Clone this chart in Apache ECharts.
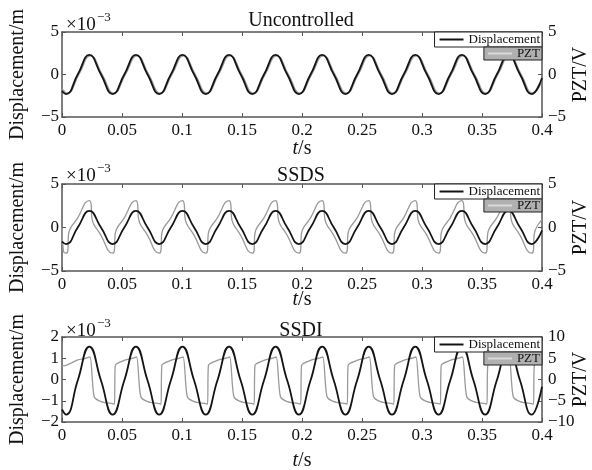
<!DOCTYPE html>
<html>
<head>
    <meta charset="UTF-8">
    <title>Displacement / PZT</title>
    <script src="https://cdn.jsdelivr.net/npm/echarts/dist/echarts.min.js"></script>
    <style>
        html, body { margin: 0; padding: 0; background: #fff; }
        #main { width: 592px; height: 470px; }
    </style>
</head>
<body>
<div id="main"></div>
<script>
    // key times of the displacement (troughs, zero crossings, peaks), s
    var tDisp = [0, 0.0034, 0.0131, 0.0228, 0.0325, 0.0422, 0.0519, 0.0616, 0.0713, 0.0810, 0.0907,
        0.1004, 0.1101, 0.1198, 0.1295, 0.1392, 0.1489, 0.1586, 0.1683, 0.1780, 0.1877, 0.1974,
        0.2071, 0.2168, 0.2265, 0.2362, 0.2459, 0.2556, 0.2653, 0.2750, 0.2847, 0.2944, 0.3041,
        0.3138, 0.3235, 0.3332, 0.3429, 0.3526, 0.3623, 0.3720, 0.3817, 0.3914, 0.4];

    // displacement, x1e-3 m
    var dispUnc = [-1.96,
        -2.3, 0, 2.3, 0, -2.3, 0, 2.3, 0, -2.3, 0, 2.3, 0, -2.3, 0, 2.3, 0, -2.3, 0, 2.3, 0,
        -2.3, 0, 2.3, 0, -2.3, 0, 2.3, 0, -2.3, 0, 2.3, 0, -2.3, 0, 2.3, 0, -2.3, 0, 2.3, 0,
        -2.3, -0.41];
    var dispSsds = [-1.62,
        -1.9, 0, 1.9, 0, -1.9, 0, 1.9, 0, -1.9, 0, 1.9, 0, -1.9, 0, 1.9, 0, -1.9, 0, 1.9, 0,
        -1.9, 0, 1.9, 0, -1.9, 0, 1.9, 0, -1.9, 0, 1.9, 0, -1.9, 0, 1.9, 0, -1.9, 0, 1.9, 0,
        -1.9, -0.34];
    var dispSsdi = [-1.41,
        -1.65, -0.05, 1.55, -0.05, -1.65, -0.05, 1.55, -0.05, -1.65, -0.05, 1.55, -0.05,
        -1.65, -0.05, 1.55, -0.05, -1.65, -0.05, 1.55, -0.05, -1.65, -0.05, 1.55, -0.05,
        -1.65, -0.05, 1.55, -0.05, -1.65, -0.05, 1.55, -0.05, -1.65, -0.05, 1.55, -0.05,
        -1.65, -0.05, 1.55, -0.05,
        -1.65, -0.34];

    // PZT voltage, V
    var tPztUnc = [0, 0.0044, 0.0141, 0.0238, 0.0335, 0.0432, 0.0529, 0.0626, 0.0723, 0.0820, 0.0917,
        0.1014, 0.1111, 0.1208, 0.1305, 0.1402, 0.1499, 0.1596, 0.1693, 0.1790, 0.1887, 0.1984,
        0.2081, 0.2178, 0.2275, 0.2372, 0.2469, 0.2566, 0.2663, 0.2760, 0.2857, 0.2954, 0.3051,
        0.3148, 0.3245, 0.3342, 0.3439, 0.3536, 0.3633, 0.3730, 0.3827, 0.3924, 0.4];
    var pztUnc = [-1.67,
        -2.2, 0, 2.2, 0, -2.2, 0, 2.2, 0, -2.2, 0, 2.2, 0, -2.2, 0, 2.2, 0, -2.2, 0, 2.2, 0,
        -2.2, 0, 2.2, 0, -2.2, 0, 2.2, 0, -2.2, 0, 2.2, 0, -2.2, 0, 2.2, 0, -2.2, 0, 2.2, 0,
        -2.2, -0.73];

    var tPztSsds = [0, 0.0012,
        0.0034, 0.0049, 0.0054, 0.0131, 0.0228, 0.0243, 0.0248, 0.0325,
        0.0422, 0.0437, 0.0442, 0.0519, 0.0616, 0.0631, 0.0636, 0.0713,
        0.0810, 0.0825, 0.0830, 0.0907, 0.1004, 0.1019, 0.1024, 0.1101,
        0.1198, 0.1213, 0.1218, 0.1295, 0.1392, 0.1407, 0.1412, 0.1489,
        0.1586, 0.1601, 0.1606, 0.1683, 0.1780, 0.1795, 0.1800, 0.1877,
        0.1974, 0.1989, 0.1994, 0.2071, 0.2168, 0.2183, 0.2188, 0.2265,
        0.2362, 0.2377, 0.2382, 0.2459, 0.2556, 0.2571, 0.2576, 0.2653,
        0.2750, 0.2765, 0.2770, 0.2847, 0.2944, 0.2959, 0.2964, 0.3041,
        0.3138, 0.3153, 0.3158, 0.3235, 0.3332, 0.3347, 0.3352, 0.3429,
        0.3526, 0.3541, 0.3546, 0.3623, 0.3720, 0.3735, 0.3740, 0.3817,
        0.3914, 0.3929, 0.3934, 0.4];
    var pztSsds = [0.0, -2.7,
        -2.95, -2.6, -0.85, 1.1, 3.1, 2.6, 1.2, -0.9,
        -2.95, -2.6, -0.85, 1.1, 3.1, 2.6, 1.2, -0.9,
        -2.95, -2.6, -0.85, 1.1, 3.1, 2.6, 1.2, -0.9,
        -2.95, -2.6, -0.85, 1.1, 3.1, 2.6, 1.2, -0.9,
        -2.95, -2.6, -0.85, 1.1, 3.1, 2.6, 1.2, -0.9,
        -2.95, -2.6, -0.85, 1.1, 3.1, 2.6, 1.2, -0.9,
        -2.95, -2.6, -0.85, 1.1, 3.1, 2.6, 1.2, -0.9,
        -2.95, -2.6, -0.85, 1.1, 3.1, 2.6, 1.2, -0.9,
        -2.95, -2.6, -0.85, 1.1, 3.1, 2.6, 1.2, -0.9,
        -2.95, -2.6, -0.85, 1.1, 3.1, 2.6, 1.2, -0.9,
        -2.95, -2.6, -0.85, 0.9];

    var tPztSsdi = [0, 0.0040, 0.0131,
        0.0198, 0.0233, 0.0268, 0.0325, 0.0422, 0.0437, 0.0444, 0.0519,
        0.0586, 0.0621, 0.0656, 0.0713, 0.0810, 0.0825, 0.0832, 0.0907,
        0.0974, 0.1009, 0.1044, 0.1101, 0.1198, 0.1213, 0.1220, 0.1295,
        0.1362, 0.1397, 0.1432, 0.1489, 0.1586, 0.1601, 0.1608, 0.1683,
        0.1750, 0.1785, 0.1820, 0.1877, 0.1974, 0.1989, 0.1996, 0.2071,
        0.2138, 0.2173, 0.2208, 0.2265, 0.2362, 0.2377, 0.2384, 0.2459,
        0.2526, 0.2561, 0.2596, 0.2653, 0.2750, 0.2765, 0.2772, 0.2847,
        0.2914, 0.2949, 0.2984, 0.3041, 0.3138, 0.3153, 0.3160, 0.3235,
        0.3302, 0.3337, 0.3372, 0.3429, 0.3526, 0.3541, 0.3548, 0.3623,
        0.3690, 0.3725, 0.3760, 0.3817, 0.3914, 0.3929, 0.3936, 0.4];
    var pztSsdi = [3.2, 3.4, 4.6,
        5.0, 5.3, -4.0, -5.2, -5.7, -5.8, 3.3, 4.5,
        5.0, 5.3, -4.0, -5.2, -5.7, -5.8, 3.3, 4.5,
        5.0, 5.3, -4.0, -5.2, -5.7, -5.8, 3.3, 4.5,
        5.0, 5.3, -4.0, -5.2, -5.7, -5.8, 3.3, 4.5,
        5.0, 5.3, -4.0, -5.2, -5.7, -5.8, 3.3, 4.5,
        5.0, 5.3, -4.0, -5.2, -5.7, -5.8, 3.3, 4.5,
        5.0, 5.3, -4.0, -5.2, -5.7, -5.8, 3.3, 4.5,
        5.0, 5.3, -4.0, -5.2, -5.7, -5.8, 3.3, 4.5,
        5.0, 5.3, -4.0, -5.2, -5.7, -5.8, 3.3, 4.5,
        5.0, 5.3, -4.0, -5.2, -5.7, -5.8, 3.3, 4.4];

    var panelTitles = ['Uncontrolled', 'SSDS', 'SSDI'];
    var leftRange = [[-5, 5, 5], [-5, 5, 5], [-2, 2, 1]];
    var rightRange = [[-5, 5, 5], [-5, 5, 5], [-10, 10, 5]];

    var FONT = '"Liberation Serif", "Times New Roman", serif';
    var gridTop = [32, 184, 337];
    var gridH = [85, 87, 85];
    var titleY = [21, 176, 331];
    var expY = [25, 176, 331];
    var tsGap = [22, 19, 29];

    function pairs(ts, vs) {
        return ts.map(function (t, i) { return [t, vs[i]]; });
    }
    function minus(v) {
        return String(v).replace('-', '\u2212');
    }

    var dispAll = [dispUnc, dispSsds, dispSsdi];
    var pztT = [tPztUnc, tPztSsds, tPztSsdi];
    var pztAll = [pztUnc, pztSsds, pztSsdi];

    var grids = [], xAxes = [], yAxes = [], series = [], legends = [], graphics = [];
    var lineCol = '#555';

    for (var i = 0; i < 3; i++) {
        grids.push({left: 62, right: 50, top: gridTop[i], height: gridH[i],
            containLabel: false, outerBoundsMode: 'none'});

        xAxes.push({
            type: 'value', gridIndex: i, min: 0, max: 0.4, interval: 0.05, position: 'bottom',
            name: '{i|t}/s', nameLocation: 'middle', nameGap: tsGap[i], nameMoveOverlap: false,
            nameTextStyle: {fontFamily: FONT, fontSize: 20, color: '#111',
                rich: {i: {fontFamily: FONT, fontSize: 20, fontStyle: 'italic', color: '#111'}}},
            axisLine: {show: true, onZero: false, lineStyle: {color: lineCol, width: 1.5}},
            axisTick: {inside: true, length: 4, lineStyle: {color: lineCol}},
            axisLabel: {fontFamily: FONT, fontSize: 17, color: '#111', margin: 5,
                formatter: function (v) { return String(+v.toFixed(2)); }},
            splitLine: {show: false}
        });
        xAxes.push({
            type: 'value', gridIndex: i, min: 0, max: 0.4, interval: 0.05, position: 'top',
            axisLine: {show: true, onZero: false, lineStyle: {color: lineCol, width: 1.5}},
            axisTick: {inside: true, length: 4, lineStyle: {color: lineCol}},
            axisLabel: {show: false},
            splitLine: {show: false}
        });

        yAxes.push({
            type: 'value', gridIndex: i, position: 'left',
            min: leftRange[i][0], max: leftRange[i][1], interval: leftRange[i][2],
            name: 'Displacement/m', nameLocation: 'middle', nameGap: 34, nameMoveOverlap: false,
            nameTextStyle: {fontFamily: FONT, fontSize: 20, color: '#111'},
            axisLine: {show: true, onZero: false, lineStyle: {color: lineCol, width: 1.5}},
            axisTick: {show: true, inside: true, length: 4, lineStyle: {color: lineCol}},
            axisLabel: {fontFamily: FONT, fontSize: 17, color: '#111', margin: 3, formatter: minus},
            splitLine: {show: false}
        });
        yAxes.push({
            type: 'value', gridIndex: i, position: 'right',
            min: rightRange[i][0], max: rightRange[i][1], interval: rightRange[i][2],
            name: 'PZT/V', nameLocation: 'middle', nameGap: 29, nameRotate: 90, nameMoveOverlap: false,
            nameTextStyle: {fontFamily: FONT, fontSize: 20, color: '#111'},
            axisLine: {show: true, onZero: false, lineStyle: {color: lineCol, width: 1.5}},
            axisTick: {show: true, inside: true, length: 4, lineStyle: {color: lineCol}},
            axisLabel: {fontFamily: FONT, fontSize: 17, color: '#111', margin: 6, formatter: minus},
            splitLine: {show: false}
        });

        series.push({
            name: 'PZT', type: 'line', xAxisIndex: 2 * i, yAxisIndex: 2 * i + 1,
            data: pairs(pztT[i], pztAll[i]), symbol: 'none', smooth: i === 2 ? 0.25 : 0.5,
            lineStyle: {color: '#9a9a9a', width: 1.3}, itemStyle: {color: '#9a9a9a'}, z: 2
        });
        series.push({
            name: 'Displacement', type: 'line', xAxisIndex: 2 * i, yAxisIndex: 2 * i,
            data: pairs(tDisp, dispAll[i]), symbol: 'none', smooth: 0.5,
            lineStyle: {color: '#141414', width: 1.8}, itemStyle: {color: '#141414'}, z: 3
        });

        legends.push({
            data: ['Displacement'], right: 50, top: gridTop[i], selectedMode: false,
            backgroundColor: '#fff', borderColor: '#222', borderWidth: 1, borderRadius: 0,
            padding: [1, 2, 1, 5], icon: 'rect', itemWidth: 24, itemHeight: 2,
            itemStyle: {color: '#141414'},
            textStyle: {fontFamily: FONT, fontSize: 13, lineHeight: 13, color: '#111'}
        });
        legends.push({
            data: ['PZT'], right: 50, top: gridTop[i] + 15, selectedMode: false,
            backgroundColor: '#b0b0b0', borderColor: '#222', borderWidth: 1, borderRadius: 0,
            padding: [0, 2, 0, 4], icon: 'rect', itemWidth: 24, itemHeight: 2,
            itemStyle: {color: '#dadada'},
            textStyle: {fontFamily: FONT, fontSize: 13, lineHeight: 13, color: '#111'}
        });

        graphics.push({
            type: 'text', x: 301, y: titleY[i], z: 10,
            style: {text: panelTitles[i], font: '20px ' + FONT, fill: '#111', align: 'center', verticalAlign: 'middle'}
        });
        graphics.push({
            type: 'text', x: 66, y: expY[i], z: 10,
            style: {text: '\u00d710', font: '19px ' + FONT, fill: '#111', align: 'left', verticalAlign: 'middle'}
        });
        graphics.push({
            type: 'text', x: 97, y: expY[i] - 7, z: 10,
            style: {text: '\u22123', font: '13px ' + FONT, fill: '#111', align: 'left', verticalAlign: 'middle'}
        });
    }

    var chart = echarts.init(document.getElementById('main'), null, {renderer: 'canvas'});
    chart.setOption({
        animation: false,
        backgroundColor: '#fff',
        grid: grids,
        xAxis: xAxes,
        yAxis: yAxes,
        legend: legends,
        series: series,
        graphic: graphics
    });
</script>
</body>
</html>
